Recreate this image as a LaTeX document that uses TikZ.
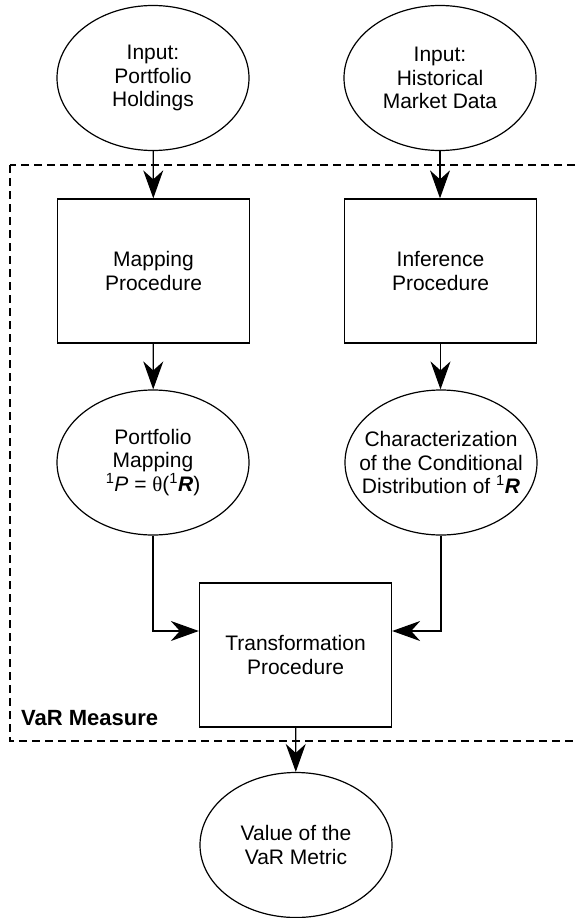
\documentclass[tikz,border=0pt]{standalone}
\usepackage{fontspec}
\setmainfont{Liberation Sans}
\newfontfamily\symfont{Liberation Serif}
\usetikzlibrary{shapes.geometric,arrows.meta}
\begin{document}
\begin{tikzpicture}[x=1pt,y=-1pt,
  oval/.style={ellipse,draw,line width=1.2pt,minimum width=192pt,minimum height=145pt,inner sep=0pt,
    label={[align=center,inner sep=0pt,font=\fontsize{21}{23.5}\selectfont]center:#1}},
  procbox/.style={rectangle,draw,line width=1.3pt,minimum width=192pt,minimum height=144pt,inner sep=0pt,align=center,font=\fontsize{21}{23.5}\selectfont},
  conn/.style={line width=1.2pt,-{Stealth[length=28pt,width=20pt,inset=9pt]}},
  region/.style={dashed,dash pattern=on 8pt off 5pt,line width=1.2pt}]
\clip (0,0) rectangle (576,918);
\useasboundingbox (0,0) rectangle (576,918);
\draw[region] (10,165) rectangle (620,741);
\node[oval={Input:\\Portfolio\\Holdings}] (in1) at (153,78) {};
\node[oval={Input:\\Historical\\Market Data}] (in2) at (440,78) {};
\node[procbox] (map) at (153.5,271) {Mapping\\Procedure};
\node[procbox] (inf) at (440.5,271) {Inference\\Procedure};
\node[oval={Portfolio\\Mapping\\\textsuperscript{1}\textit{P} = {\symfont θ}(\textsuperscript{1}\textbf{\textit{R}})}] (pm) at (153,462.5) {};
\node[oval={Characterization\\of the Conditional\\Distribution of \textsuperscript{1}\textbf{\textit{R}}}] (cd) at (441,462.5) {};
\node[procbox] (tr) at (295.5,655) {Transformation\\Procedure};
\node[oval={Value of the\\VaR Metric}] (val) at (296,845) {};
\node[anchor=base west,inner sep=0pt,font=\fontsize{22}{24}\selectfont\bfseries] (lbl) at (21,725) {VaR Measure};
\draw[conn] (in1) -- (map);
\draw[conn] (in2.south) -- (in2.south |- inf.north);
\draw[conn] (map) -- (pm);
\draw[conn] (inf.south) -- (inf.south |- cd.north);
\draw[conn] (pm.south) |- ([yshift=24pt]tr.west);
\draw[conn] (cd.south) |- ([yshift=24pt]tr.east);
\draw[conn] (tr) -- (val);
\end{tikzpicture}
\end{document}
